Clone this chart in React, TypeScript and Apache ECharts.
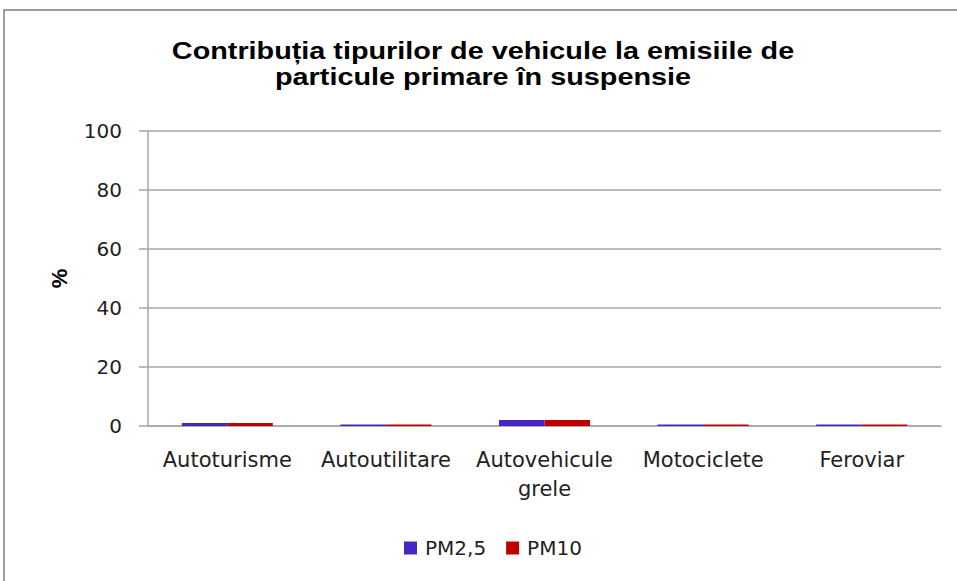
import React, { useEffect, useRef } from "react";
import * as echarts from "echarts";

const categories = ["Autoturisme", "Autoutilitare", "Autovehicule\ngrele", "Motociclete", "Feroviar"];
const pm25 = [1.0, 0.5, 2.0, 0.5, 0.5];
const pm10 = [1.0, 0.5, 2.0, 0.5, 0.5];
const seriesNames = ["PM2,5", "PM10"];
const titleText = "Contribuția tipurilor de vehicule la emisiile de\nparticule primare în suspensie";

export default function App() {
  const ref = useRef<HTMLDivElement>(null);
  useEffect(() => {
    if (!ref.current) return;
    const chart = echarts.init(ref.current, null, { renderer: "svg" });
    chart.setOption({
      animation: false,
      backgroundColor: "#ffffff",
      graphic: [
        {
          type: "rect",
          shape: { x: 4, y: 10, width: 960, height: 580 },
          style: { fill: "none", stroke: "#7f7f7f", lineWidth: 1.5 },
          silent: true,
        },
        {
          type: "text",
          x: 483,
          y: 38,
          scaleX: 1.2,
          silent: true,
          style: {
            text: titleText,
            fontFamily: "Liberation Sans",
            fontWeight: "bold",
            fontSize: 24,
            lineHeight: 26,
            align: "center",
            verticalAlign: "top",
            fill: "#000000",
          },
        },
      ],
      legend: {
        data: seriesNames,
        left: 399,
        top: 533,
        itemWidth: 13,
        itemHeight: 13,
        itemGap: 20,
        icon: "rect",
        textStyle: { fontFamily: "DejaVu Sans", fontSize: 20, color: "#222222", padding: [0, 0, 0, 3] },
      },
      grid: { left: 148, right: 16, top: 131, bottom: 155 },
      xAxis: {
        type: "category",
        data: categories,
        axisLine: { lineStyle: { color: "#a6a6a6", width: 1.5 } },
        axisTick: { show: false },
        axisLabel: {
          fontFamily: "DejaVu Sans",
          fontSize: 21,
          lineHeight: 29,
          color: "#222222",
          margin: 19,
          interval: 0,
        },
      },
      yAxis: {
        type: "value",
        min: 0,
        max: 100,
        interval: 20,
        name: "%",
        nameLocation: "middle",
        nameRotate: 90,
        nameGap: 78,
        nameTextStyle: { fontFamily: "Liberation Sans", fontWeight: "bold", fontSize: 22, color: "#000000" },
        axisLine: { show: true, lineStyle: { color: "#a6a6a6", width: 1.5 } },
        axisTick: { show: true, length: 9, lineStyle: { color: "#a6a6a6", width: 1.5 } },
        splitLine: { lineStyle: { color: "#a6a6a6", width: 1.5 } },
        axisLabel: { fontFamily: "DejaVu Sans", fontSize: 20, color: "#222222", margin: 26 },
      },
      series: [
        {
          name: seriesNames[0],
          type: "bar",
          data: pm25,
          barGap: "0%",
          barCategoryGap: "42.6%",
          itemStyle: { color: "#4626C4" },
        },
        {
          name: seriesNames[1],
          type: "bar",
          data: pm10,
          barGap: "0%",
          barCategoryGap: "42.6%",
          itemStyle: { color: "#C00000" },
        },
      ],
    });
    return () => chart.dispose();
  }, []);
  return (
    <div
      ref={ref}
      style={{ position: "absolute", left: 0, top: 0, width: 957, height: 581 }}
    />
  );
}
